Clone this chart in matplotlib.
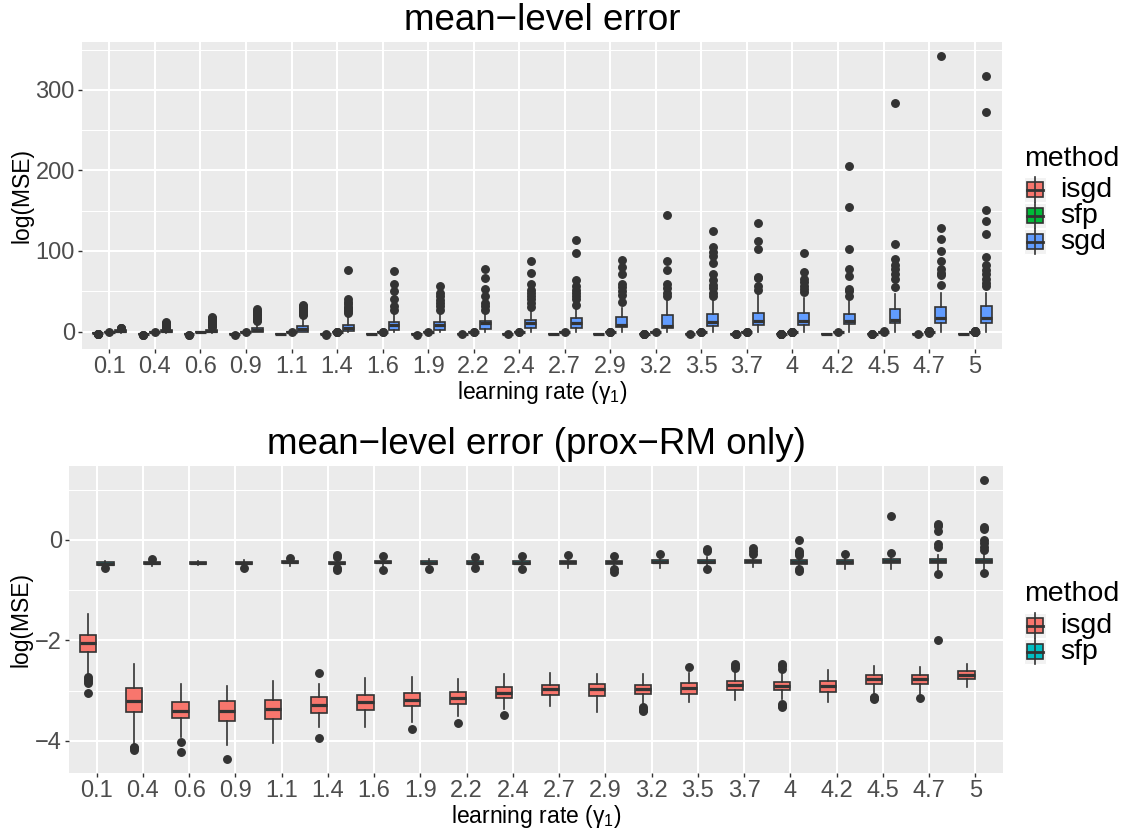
import numpy as np
import matplotlib
matplotlib.use('Agg')
import matplotlib.pyplot as plt
from matplotlib.patches import Rectangle
from matplotlib.lines import Line2D
from matplotlib.ticker import MultipleLocator

plt.rcParams['font.family'] = ['Liberation Sans', 'DejaVu Sans']
plt.rcParams['mathtext.fontset'] = 'custom'
plt.rcParams['mathtext.rm'] = 'Liberation Sans'
plt.rcParams['mathtext.it'] = 'Liberation Sans:italic'

# learning rates (x categories)
rate_labels = ['0.1', '0.4', '0.6', '0.9', '1.1', '1.4', '1.6', '1.9', '2.2', '2.4',
               '2.7', '2.9', '3.2', '3.5', '3.7', '4', '4.2', '4.5', '4.7', '5']

# isgd boxes (log MSE)
isgd_med = [-2.05, -3.20, -3.40, -3.41, -3.37, -3.28, -3.23, -3.18, -3.14, -3.04,
            -2.97, -2.97, -2.97, -2.95, -2.89, -2.90, -2.90, -2.77, -2.77, -2.69]
isgd_q1 = [-2.23, -3.42, -3.55, -3.60, -3.56, -3.45, -3.38, -3.31, -3.27, -3.14,
           -3.08, -3.10, -3.07, -3.06, -2.98, -2.99, -3.02, -2.86, -2.86, -2.76]
isgd_q3 = [-1.90, -2.94, -3.22, -3.20, -3.19, -3.13, -3.08, -3.04, -3.02, -2.92,
           -2.89, -2.86, -2.89, -2.84, -2.81, -2.83, -2.81, -2.69, -2.69, -2.61]
isgd_lo = [-2.68, -4.07, -3.93, -4.09, -4.05, -3.73, -3.72, -3.63, -3.50, -3.37,
           -3.30, -3.43, -3.27, -3.22, -3.19, -3.17, -3.23, -3.07, -3.07, -2.92]
isgd_hi = [-1.47, -2.46, -2.86, -2.90, -2.81, -2.87, -2.75, -2.72, -2.76, -2.67,
           -2.64, -2.66, -2.66, -2.64, -2.61, -2.67, -2.59, -2.51, -2.52, -2.46]
isgd_out = [[-2.73, -2.77, -2.81, -2.85, -3.04], [-4.12, -4.15, -4.19], [-4.03, -4.21],
            [-4.36], [], [-2.64, -3.95], [], [-3.76], [-3.64], [-3.49], [], [],
            [-3.33, -3.36, -3.38, -3.41], [-2.52], [-2.47, -2.50, -2.55],
            [-2.46, -2.51, -2.57, -3.27, -3.31, -3.33], [], [-3.12, -3.15, -3.17],
            [-3.15], []]

# sfp boxes
sfp_med = [-0.475, -0.47, -0.46, -0.46, -0.45, -0.46, -0.45, -0.46, -0.46, -0.46,
           -0.45, -0.45, -0.44, -0.44, -0.43, -0.44, -0.44, -0.42, -0.42, -0.42]
sfp_q1 = [-0.50, -0.49, -0.48, -0.49, -0.47, -0.48, -0.47, -0.49, -0.49, -0.49,
          -0.48, -0.48, -0.47, -0.47, -0.46, -0.48, -0.48, -0.46, -0.47, -0.47]
sfp_q3 = [-0.45, -0.45, -0.44, -0.44, -0.43, -0.44, -0.43, -0.43, -0.43, -0.43,
          -0.42, -0.42, -0.41, -0.41, -0.40, -0.41, -0.41, -0.39, -0.38, -0.38]
sfp_lo = [-0.54, -0.53, -0.51, -0.53, -0.52, -0.54, -0.55, -0.55, -0.53, -0.55,
          -0.56, -0.56, -0.56, -0.56, -0.55, -0.54, -0.58, -0.58, -0.60, -0.58]
sfp_hi = [-0.43, -0.42, -0.42, -0.41, -0.41, -0.40, -0.40, -0.39, -0.39, -0.38,
          -0.37, -0.37, -0.35, -0.35, -0.33, -0.35, -0.35, -0.33, -0.30, -0.30]
sfp_out = [[-0.56], [-0.38], [], [-0.56], [-0.37], [-0.30, -0.34, -0.56, -0.61],
           [-0.33, -0.60], [-0.59], [-0.34, -0.57], [-0.33, -0.59], [-0.31],
           [-0.32, -0.59, -0.64], [-0.28], [-0.19, -0.23, -0.58], [-0.17, -0.22, -0.28],
           [0.0, -0.23, -0.26, -0.31, -0.59, -0.62], [-0.28], [0.47, -0.26],
           [0.31, 0.27, 0.18, -0.08, -0.14, -0.69, -1.99],
           [1.19, 0.26, 0.22, 0.0, -0.07, -0.14, -0.21, -0.66]]

# sgd boxes (only in the top panel)
sgd_med = [0.5, 0.6, 0.8, 1.7, 3.3, 4.5, 8.0, 8.7, 10.0, 10.7,
           10.0, 8.7, 7.2, 11.5, 13.6, 13.6, 13.6, 14.9, 16.5, 16.5]
sgd_q1 = [-0.3, -0.2, 0.0, 0.0, 0.0, 0.5, 1.7, 2.5, 3.7, 3.8,
          3.8, 5.4, 4.5, 7.4, 8.2, 8.2, 9.0, 10.0, 11.0, 11.0]
sgd_q3 = [1.3, 1.5, 2.0, 4.5, 6.6, 8.7, 12.0, 11.5, 13.6, 14.9,
          16.8, 17.8, 20.0, 21.9, 23.5, 23.0, 22.0, 28.0, 30.5, 32.0]
sgd_lo = [-1.6, -1.5, -1.4, -1.2, -1.0, -0.9, -0.8, -0.6, -0.5, -0.5,
          -0.4, -0.4, -0.3, -0.3, -0.3, -0.2, -0.2, -0.1, -0.1, 0.0]
sgd_hi = [3.0, 3.2, 4.5, 10.5, 16.5, 21.0, 24.0, 22.0, 23.0, 25.0,
          29.0, 29.0, 39.0, 39.0, 46.0, 42.0, 37.5, 46.0, 48.0, 48.0]
sgd_out = [[3.8, 4.3, 4.8],
           [4.0, 5.0, 6.0, 7.0, 8.0, 9.0, 10.0, 11.5],
           [5.5, 6.5, 7.5, 8.5, 9.5, 10.5, 11.5, 12.5, 13.5, 14.5, 15.5, 17.0, 18.5],
           [12.5, 14.0, 16.0, 18.0, 20.0, 22.0, 24.0, 26.0, 28.0],
           [20.0, 22.0, 24.0, 26.0, 28.0, 30.0, 32.0, 33.5],
           [23.0, 25.0, 27.0, 29.0, 31.0, 34.0, 37.0, 40.0, 76.0],
           [27.0, 32.0, 40.5, 50.0, 59.5, 75.0],
           [27.0, 32.0, 35.0, 39.0, 44.0, 48.0, 56.0],
           [27.0, 32.0, 36.0, 44.0, 53.0, 66.0, 78.0],
           [31.0, 36.0, 40.0, 44.0, 48.0, 51.0, 59.0, 73.0, 88.0],
           [33.0, 40.0, 44.0, 48.0, 51.0, 56.0, 64.0, 97.0, 113.0],
           [37.0, 45.0, 50.0, 55.0, 59.0, 71.0, 80.0, 89.0],
           [44.0, 48.0, 54.0, 59.0, 76.0, 87.0, 144.0],
           [44.0, 48.0, 54.0, 58.0, 64.0, 71.0, 85.0, 94.0, 99.0, 105.0, 125.0],
           [52.0, 56.0, 67.0, 68.0, 102.0, 112.0, 135.0],
           [49.0, 53.0, 57.0, 61.0, 65.0, 73.5, 97.5],
           [44.0, 50.0, 53.0, 68.5, 78.0, 103.0, 154.0, 205.0],
           [55.0, 65.0, 71.0, 77.0, 83.0, 90.5, 109.0, 284.0],
           [58.0, 70.0, 73.0, 78.0, 87.0, 100.0, 115.0, 129.0, 342.0],
           [56.0, 60.0, 65.0, 71.0, 76.0, 82.0, 93.0, 121.0, 137.0, 151.0, 272.0, 317.0]]

W, H = 1134, 833
EDGE = '#333333'


def stats(med, q1, q3, lo, hi, out):
    return [dict(med=m, q1=a, q3=b, whislo=l, whishi=h, fliers=f)
            for m, a, b, l, h, f in zip(med, q1, q3, lo, hi, out)]


def draw_boxes(ax, st, offset, width, color):
    pos = np.arange(1, len(st) + 1) + offset
    ax.bxp(st, positions=pos, widths=width, patch_artist=True, showcaps=False,
           boxprops=dict(facecolor=color, edgecolor=EDGE, linewidth=1.2),
           medianprops=dict(color=EDGE, linewidth=2.3, solid_capstyle='butt'),
           whiskerprops=dict(color=EDGE, linewidth=1.2),
           flierprops=dict(marker='o', markerfacecolor=EDGE, markeredgecolor=EDGE,
                           markersize=5.4),
           manage_ticks=False, zorder=3)


def data_range(groups):
    vals = []
    for st in groups:
        for d in st:
            vals += [d['whislo'], d['whishi']] + list(d['fliers'])
    lo, hi = min(vals), max(vals)
    pad = (hi - lo) * 0.05
    return lo - pad, hi + pad


def style(ax, groups, major, minor, title):
    ax.set_facecolor('#EBEBEB')
    for s in ax.spines.values():
        s.set_visible(False)
    ax.set_xlim(0.4, 20.6)
    ax.set_ylim(data_range(groups))
    ax.set_xticks(np.arange(1, 21))
    ax.set_xticklabels(rate_labels)
    ax.yaxis.set_major_locator(MultipleLocator(major))
    ax.yaxis.set_minor_locator(MultipleLocator(minor))
    ax.grid(which='major', color='white', linewidth=1.5)
    ax.grid(which='minor', axis='y', color='white', linewidth=0.75)
    ax.set_axisbelow(True)
    ax.tick_params(which='major', length=3, width=1, color=EDGE, labelsize=17,
                   labelcolor='#4D4D4D', pad=2.2)
    ax.tick_params(which='minor', length=0)
    ax.set_xlabel('learning rate (γ$_1$)', fontsize=16.5, labelpad=0.5)
    ax.set_ylabel('log(MSE)', fontsize=16.5, labelpad=1.5)
    ax.set_title(title, fontsize=26.5, pad=9)


def px(x, y):
    return x / W, 1 - y / H


def legend(fig, colors, labels, title_base, key_top):
    fig.text(*px(1024, title_base), 'method', fontsize=20.5, va='baseline', ha='left')
    for i, (c, lab) in enumerate(zip(colors, labels)):
        top = key_top + i * 26
        x0, kw, kh = 1024, 22, 25
        fig.add_artist(Rectangle(px(x0, top + kh), kw / W, kh / H, transform=fig.transFigure,
                                 facecolor='#F2F2F2', edgecolor='white', linewidth=0.8))
        cx = x0 + kw / 2
        fig.add_artist(Line2D([cx / W, cx / W], [1 - top / H, 1 - (top + kh) / H],
                              transform=fig.transFigure, color=EDGE, linewidth=1.2))
        fig.add_artist(Rectangle(px(x0 + 2.7, top + kh - 5), (kw - 5.4) / W, (kh - 10) / H,
                                 transform=fig.transFigure, facecolor=c, edgecolor=EDGE,
                                 linewidth=1.2))
        fig.add_artist(Line2D([(x0 + 2.7) / W, (x0 + kw - 2.7) / W],
                              [1 - (top + kh / 2) / H] * 2, transform=fig.transFigure,
                              color=EDGE, linewidth=2.0))
        fig.text(*px(1060, top + kh / 2 + 7.5), lab, fontsize=20.5, va='baseline', ha='left')


isgd_st = stats(isgd_med, isgd_q1, isgd_q3, isgd_lo, isgd_hi, isgd_out)
sfp_st = stats(sfp_med, sfp_q1, sfp_q3, sfp_lo, sfp_hi, sfp_out)
sgd_st = stats(sgd_med, sgd_q1, sgd_q3, sgd_lo, sgd_hi, sgd_out)

fig = plt.figure(figsize=(W / 100, H / 100), dpi=100)

# top: all three methods
ax1 = fig.add_axes([82 / W, 1 - 349 / H, 920 / W, 307 / H])
draw_boxes(ax1, isgd_st, -0.25, 0.24, '#F8766D')
draw_boxes(ax1, sfp_st, 0.0, 0.24, '#00BA38')
draw_boxes(ax1, sgd_st, 0.25, 0.24, '#619CFF')
style(ax1, [isgd_st, sfp_st, sgd_st], 100, 50, 'mean−level error')
legend(fig, ['#F8766D', '#00BA38', '#619CFF'], ['isgd', 'sfp', 'sgd'], 166, 177)

# bottom: prox-RM methods only
ax2 = fig.add_axes([69 / W, 1 - 773 / H, 934 / W, 307 / H])
draw_boxes(ax2, isgd_st, -0.1875, 0.35, '#F8766D')
draw_boxes(ax2, sfp_st, 0.1875, 0.35, '#00BFC4')
style(ax2, [isgd_st, sfp_st], 2, 1, 'mean−level error (prox−RM only)')
legend(fig, ['#F8766D', '#00BFC4'], ['isgd', 'sfp'], 601, 613)

fig.savefig('out.png', dpi=100)
